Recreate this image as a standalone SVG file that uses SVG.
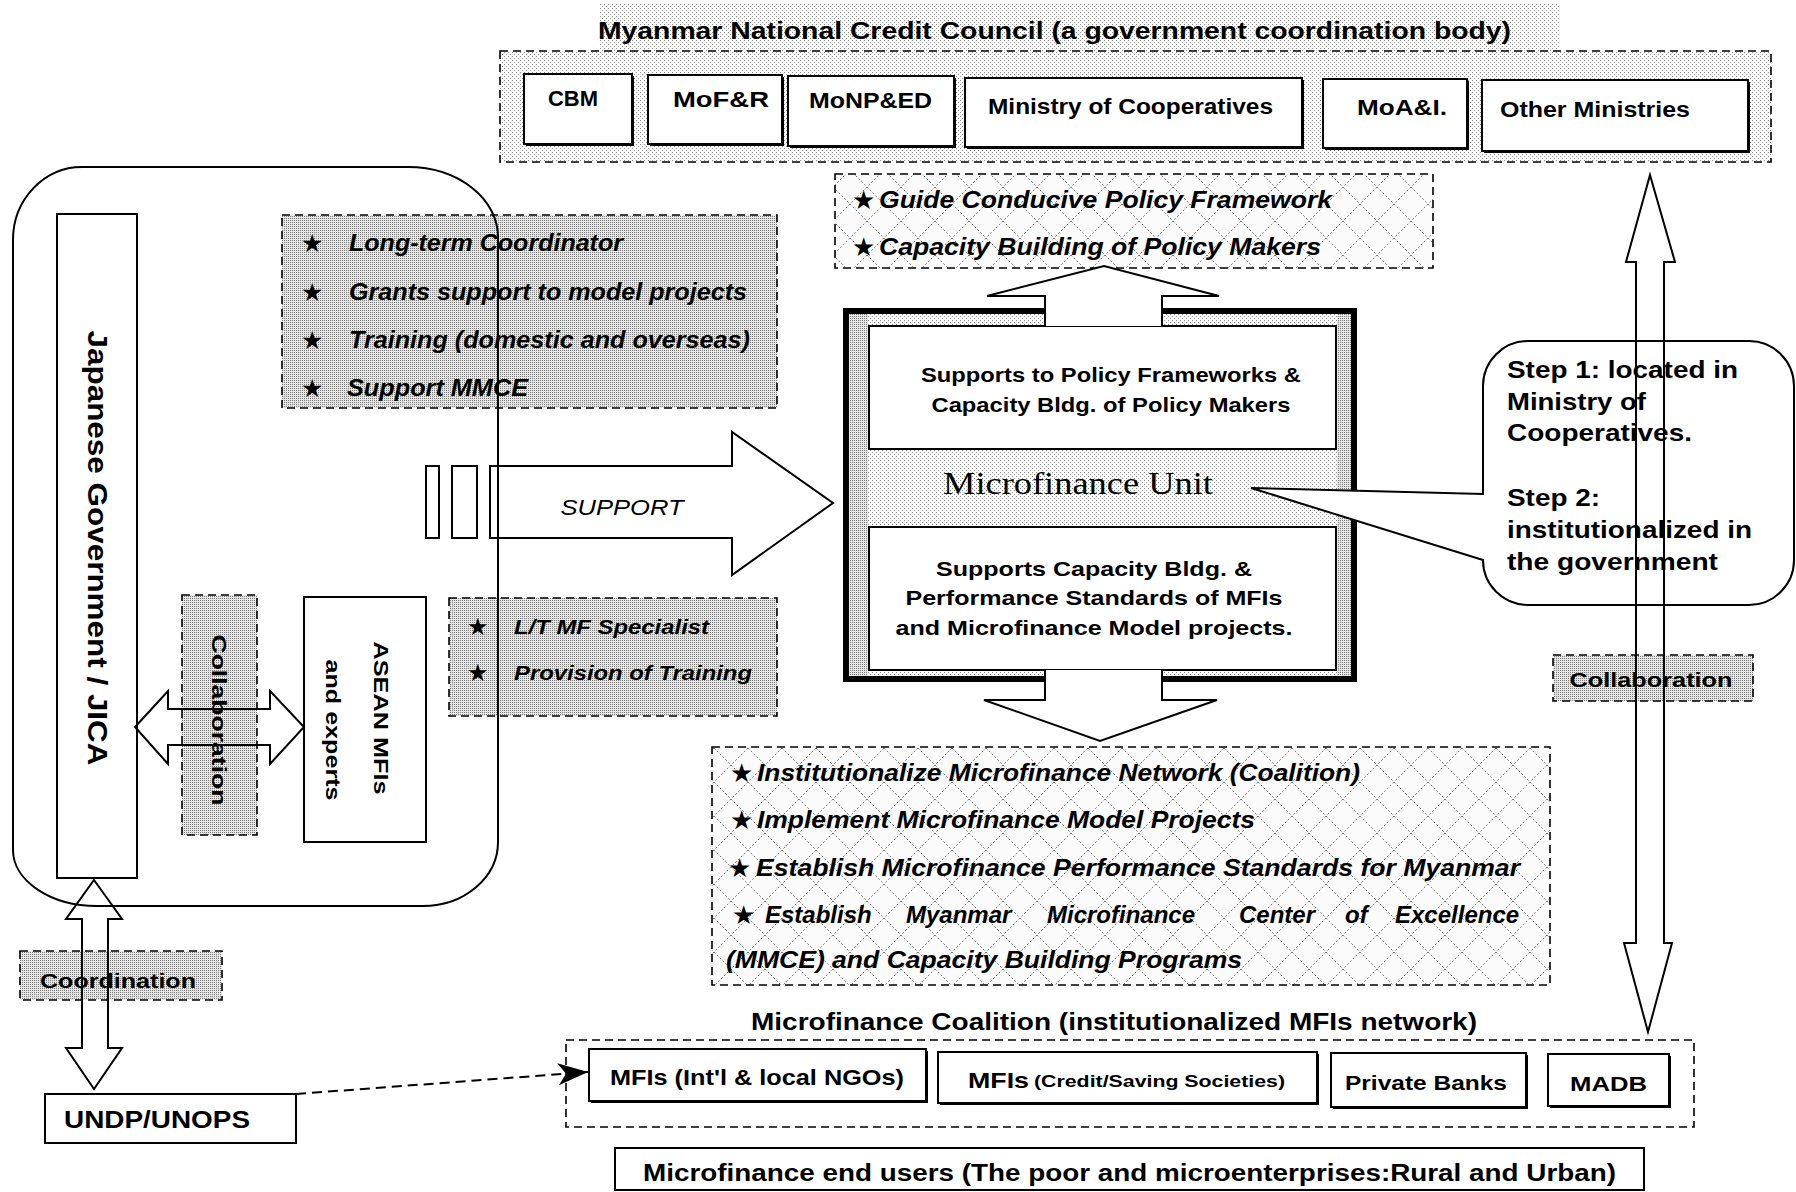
<svg xmlns="http://www.w3.org/2000/svg" width="1796" height="1192" viewBox="0 0 1796 1192">
<style>
.b{font-family:"Liberation Sans",Arial,sans-serif;font-weight:bold;fill:#000}
.bi{font-family:"Liberation Sans",Arial,sans-serif;font-weight:bold;font-style:italic;fill:#000}
.it{font-family:"Liberation Sans",Arial,sans-serif;font-style:italic;fill:#000}
.sr{font-family:"Liberation Serif","Times New Roman",serif;fill:#000}
.st{font-family:"DejaVu Sans",sans-serif;fill:#000}
.dash{stroke:#000;stroke-width:1.6;stroke-dasharray:8,5}
.box{fill:#fff;stroke:#000;stroke-width:2}
.sh{fill:#000}
.ln{fill:none;stroke:#000;stroke-width:2}
.wl{fill:#fff;stroke:#000;stroke-width:2}
</style>
<defs>
<pattern id="pl" width="4" height="4" patternUnits="userSpaceOnUse"><rect width="4" height="4" fill="#fff"/><rect width="1" height="1" fill="#8a8a8a"/><rect x="2" y="2" width="1" height="1" fill="#8a8a8a"/></pattern>
<pattern id="pd" width="2" height="2" patternUnits="userSpaceOnUse"><rect width="2" height="2" fill="#e6e6e6"/><rect width="1" height="1" fill="#7a7a7a"/></pattern>
<pattern id="hx" width="34" height="34" patternUnits="userSpaceOnUse"><rect width="34" height="34" fill="#fbfbfb"/><path d="M0,0 L34,34 M34,0 L0,34" stroke="#777" stroke-width="1" stroke-dasharray="2,2"/></pattern>
<marker id="ah" viewBox="0 0 30 22" refX="30" refY="11" markerWidth="30" markerHeight="22" markerUnits="userSpaceOnUse" orient="auto"><path d="M0,0 L30,11 L0,22 L8,11 Z" fill="#000"/></marker>
</defs>
<rect width="1796" height="1192" fill="#fff"/>

<g id="ncc">
<rect x="600" y="3" width="960" height="48" fill="url(#pl)"/>
<rect x="500" y="51" width="1271" height="111" fill="url(#pl)" class="dash"/>
<text class="b" x="598" y="39" font-size="24" textLength="913" lengthAdjust="spacingAndGlyphs">Myanmar National Credit Council (a government coordination body)</text>
</g>
<g id="cbm"><rect class="sh" x="526" y="76" width="108" height="70"/><rect class="box" x="524" y="74" width="108" height="70"/><text class="b" x="548" y="106" font-size="22" textLength="50" lengthAdjust="spacingAndGlyphs">CBM</text></g>
<g id="mofr"><rect class="sh" x="650" y="77" width="134" height="69"/><rect class="box" x="648" y="75" width="134" height="69"/><text class="b" x="673" y="107" font-size="22" textLength="96" lengthAdjust="spacingAndGlyphs">MoF&amp;R</text></g>
<g id="monped"><rect class="sh" x="790" y="78" width="166" height="70"/><rect class="box" x="788" y="76" width="166" height="70"/><text class="b" x="809" y="108" font-size="22" textLength="123" lengthAdjust="spacingAndGlyphs">MoNP&amp;ED</text></g>
<g id="moc"><rect class="sh" x="967" y="80" width="337" height="69"/><rect class="box" x="965" y="78" width="337" height="69"/><text class="b" x="988" y="114" font-size="22" textLength="285" lengthAdjust="spacingAndGlyphs">Ministry of Cooperatives</text></g>
<g id="moai"><rect class="sh" x="1325" y="81" width="144" height="69"/><rect class="box" x="1323" y="79" width="144" height="69"/><text class="b" x="1357" y="115" font-size="22" textLength="90" lengthAdjust="spacingAndGlyphs">MoA&amp;I.</text></g>
<g id="other"><rect class="sh" x="1484" y="82" width="266" height="71"/><rect class="box" x="1482" y="80" width="266" height="71"/><text class="b" x="1500" y="117" font-size="22" textLength="190" lengthAdjust="spacingAndGlyphs">Other Ministries</text></g>

<g id="guide">
<rect x="835" y="174" width="598" height="94" fill="url(#hx)" class="dash"/>
<text class="st" x="852" y="209" font-size="26">★</text>
<text class="bi" x="879" y="208" font-size="23" textLength="453" lengthAdjust="spacingAndGlyphs">Guide Conducive Policy Framework</text>
<text class="st" x="852" y="256" font-size="26">★</text>
<text class="bi" x="879" y="255" font-size="23" textLength="442" lengthAdjust="spacingAndGlyphs">Capacity Building of Policy Makers</text>
</g>

<g id="jica-support">
<rect x="282" y="215" width="495" height="193" fill="url(#pd)" class="dash"/>
<text class="st" x="301" y="252" font-size="25">★</text>
<text class="bi" x="349" y="251" font-size="23" textLength="274" lengthAdjust="spacingAndGlyphs">Long-term Coordinator</text>
<text class="st" x="301" y="301" font-size="25">★</text>
<text class="bi" x="349" y="300" font-size="23" textLength="398" lengthAdjust="spacingAndGlyphs">Grants support to model projects</text>
<text class="st" x="301" y="349" font-size="25">★</text>
<text class="bi" x="349" y="348" font-size="23" textLength="401" lengthAdjust="spacingAndGlyphs">Training (domestic and overseas)</text>
<text class="st" x="301" y="397" font-size="25">★</text>
<text class="bi" x="347" y="396" font-size="23" textLength="181" lengthAdjust="spacingAndGlyphs">Support MMCE</text>
</g>

<g id="lt-support">
<rect x="449" y="598" width="328" height="118" fill="url(#pd)" class="dash"/>
<text class="st" x="467" y="635" font-size="24">★</text>
<text class="bi" x="514" y="634" font-size="21" textLength="195" lengthAdjust="spacingAndGlyphs">L/T MF Specialist</text>
<text class="st" x="467" y="681" font-size="24">★</text>
<text class="bi" x="514" y="680" font-size="21" textLength="238" lengthAdjust="spacingAndGlyphs">Provision of Training</text>
</g>

<g id="japan">
<rect class="box" x="57" y="214" width="80" height="664"/>
<text class="b" transform="translate(97,548) rotate(90)" text-anchor="middle" dominant-baseline="central" font-size="27" textLength="435" lengthAdjust="spacingAndGlyphs">Japanese Government / JICA</text>
</g>

<g id="collab-left">
<rect x="182" y="595" width="75" height="240" fill="url(#pd)" class="dash"/>
<text class="b" transform="translate(219,720) rotate(90)" text-anchor="middle" dominant-baseline="central" font-size="20" textLength="171" lengthAdjust="spacingAndGlyphs">Collaboration</text>
</g>

<g id="asean">
<rect class="box" x="304" y="597" width="122" height="245"/>
<text class="b" transform="translate(381,718) rotate(90)" text-anchor="middle" dominant-baseline="central" font-size="21" textLength="153" lengthAdjust="spacingAndGlyphs">ASEAN MFIs</text>
<text class="b" transform="translate(333,730) rotate(90)" text-anchor="middle" dominant-baseline="central" font-size="21" textLength="141" lengthAdjust="spacingAndGlyphs">and experts</text>
</g>

<g id="mfu">
<rect x="843" y="308" width="514" height="374" fill="url(#pl)"/>
<rect x="848" y="313" width="20" height="364" fill="url(#pd)"/>
<rect x="1337" y="313" width="15" height="364" fill="url(#pd)"/>
<path d="M843,311 H1045 M1162,311 H1357 M1354,308 V682 M843,679 H1045 M1162,679 H1357 M846,308 V682" fill="none" stroke="#000" stroke-width="6"/>
<rect class="box" x="869" y="326" width="467" height="123"/>
<text class="b" x="1111" y="382" font-size="21" text-anchor="middle" textLength="380" lengthAdjust="spacingAndGlyphs">Supports to Policy Frameworks &amp;</text>
<text class="b" x="1111" y="412" font-size="21" text-anchor="middle" textLength="359" lengthAdjust="spacingAndGlyphs">Capacity Bldg. of Policy Makers</text>
<text class="sr" x="943" y="494" font-size="31" textLength="270" lengthAdjust="spacingAndGlyphs">Microfinance Unit</text>
<rect class="box" x="869" y="527" width="467" height="143"/>
<text class="b" x="1094" y="576" font-size="21" text-anchor="middle" textLength="316" lengthAdjust="spacingAndGlyphs">Supports Capacity Bldg. &amp;</text>
<text class="b" x="1094" y="605" font-size="21" text-anchor="middle" textLength="377" lengthAdjust="spacingAndGlyphs">Performance Standards of MFIs</text>
<text class="b" x="1094" y="635" font-size="21" text-anchor="middle" textLength="397" lengthAdjust="spacingAndGlyphs">and Microfinance Model projects.</text>
</g>

<g id="steps">
<path d="M1528,341 H1749 A45,45 0 0 1 1794,386 V560 A45,45 0 0 1 1749,605 H1528 A45,45 0 0 1 1483,560 L1251,488 L1483,494 V386 A45,45 0 0 1 1528,341 Z" fill="#fff" stroke="#000" stroke-width="2"/>
<text class="b" x="1507" y="378" font-size="24" textLength="231" lengthAdjust="spacingAndGlyphs">Step 1: located in</text>
<text class="b" x="1507" y="410" font-size="24" textLength="139" lengthAdjust="spacingAndGlyphs">Ministry of</text>
<text class="b" x="1507" y="441" font-size="24" textLength="185" lengthAdjust="spacingAndGlyphs">Cooperatives.</text>
<text class="b" x="1507" y="506" font-size="24" textLength="93" lengthAdjust="spacingAndGlyphs">Step 2:</text>
<text class="b" x="1507" y="538" font-size="24" textLength="245" lengthAdjust="spacingAndGlyphs">institutionalized in</text>
<text class="b" x="1507" y="570" font-size="24" textLength="211" lengthAdjust="spacingAndGlyphs">the government</text>
</g>

<g id="collab-right">
<rect x="1553" y="655" width="200" height="46" fill="url(#pd)" class="dash"/>
<text class="b" x="1651" y="687" font-size="21" text-anchor="middle" textLength="163" lengthAdjust="spacingAndGlyphs">Collaboration</text>
</g>

<g id="actions">
<rect x="712" y="747" width="838" height="238" fill="url(#hx)" class="dash"/>
<text class="st" x="730" y="782" font-size="26">★</text>
<text class="bi" x="757" y="781" font-size="23" textLength="603" lengthAdjust="spacingAndGlyphs">Institutionalize Microfinance Network (Coalition)</text>
<text class="st" x="730" y="829" font-size="26">★</text>
<text class="bi" x="757" y="828" font-size="23" textLength="498" lengthAdjust="spacingAndGlyphs">Implement Microfinance Model Projects</text>
<text class="st" x="728" y="877" font-size="26">★</text>
<text class="bi" x="756" y="876" font-size="23" textLength="764" lengthAdjust="spacingAndGlyphs">Establish Microfinance Performance Standards for Myanmar</text>
<text class="st" x="732" y="924" font-size="26">★</text>
<text class="bi" y="923" font-size="24"><tspan x="765">Establish</tspan><tspan x="906">Myanmar</tspan><tspan x="1047">Microfinance</tspan><tspan x="1239">Center</tspan><tspan x="1345">of</tspan><tspan x="1395">Excellence</tspan></text>
<text class="bi" x="726" y="968" font-size="23" textLength="516" lengthAdjust="spacingAndGlyphs">(MMCE) and Capacity Building Programs</text>
</g>

<g id="coalition">
<text class="b" x="751" y="1030" font-size="23" textLength="726" lengthAdjust="spacingAndGlyphs">Microfinance Coalition (institutionalized MFIs network)</text>
<rect x="566" y="1040" width="1128" height="87" fill="none" class="dash"/>
</g>
<g id="mfi-ngo"><rect class="sh" x="591" y="1051" width="337" height="52"/><rect class="box" x="589" y="1049" width="337" height="52"/><text class="b" x="610" y="1085" font-size="22" textLength="294" lengthAdjust="spacingAndGlyphs">MFIs (Int'l &amp; local NGOs)</text></g>
<g id="mfi-css"><rect class="sh" x="940" y="1054" width="379" height="51"/><rect class="box" x="938" y="1052" width="379" height="51"/><text class="b" x="968" y="1088" font-size="22" textLength="61" lengthAdjust="spacingAndGlyphs">MFIs</text><text class="b" x="1034" y="1087" font-size="16" textLength="251" lengthAdjust="spacingAndGlyphs">(Credit/Saving Societies)</text></g>
<g id="banks"><rect class="sh" x="1333" y="1055" width="195" height="54"/><rect class="box" x="1331" y="1053" width="195" height="54"/><text class="b" x="1345" y="1090" font-size="21" textLength="162" lengthAdjust="spacingAndGlyphs">Private Banks</text></g>
<g id="madb"><rect class="sh" x="1550" y="1056" width="121" height="52"/><rect class="box" x="1548" y="1054" width="121" height="52"/><text class="b" x="1570" y="1091" font-size="21" textLength="77" lengthAdjust="spacingAndGlyphs">MADB</text></g>

<g id="endusers"><rect class="box" x="615" y="1148" width="1029" height="42"/><text class="b" x="643" y="1181" font-size="23" textLength="973" lengthAdjust="spacingAndGlyphs">Microfinance end users (The poor and microenterprises:Rural and Urban)</text></g>

<g id="coordination">
<rect x="20" y="951" width="202" height="49" fill="url(#pd)" class="dash"/>
<text class="b" x="40" y="988" font-size="21" textLength="156" lengthAdjust="spacingAndGlyphs">Coordination</text>
</g>

<g id="undp"><rect class="box" x="45" y="1094" width="251" height="49"/><text class="b" x="64" y="1128" font-size="23" textLength="186" lengthAdjust="spacingAndGlyphs">UNDP/UNOPS</text></g>

<g id="connectors">
<path d="M490,466 H732 V432 L833,503 L732,575 V538 H490 Z" class="wl"/>
<text class="it" x="622" y="515" font-size="22" text-anchor="middle" textLength="123" lengthAdjust="spacingAndGlyphs">SUPPORT</text>
<rect x="426" y="466" width="13" height="72" class="wl"/>
<rect x="452" y="466" width="25" height="72" class="wl"/>
<path d="M1045,326 V296 H987 L1104,266 L1219,296 H1162 V326" class="wl"/>
<path d="M1045,670 V700 H984 L1100,741 L1217,700 H1162 V670" class="wl"/>
<path d="M1650,175 L1675,262 H1664 V943 H1672 L1648,1032 L1624,943 H1636 V262 H1626 Z" class="ln"/>
<path d="M135,727 L168,691 V709 H270 V691 L304,727 L270,764 V745 H168 V764 Z" class="ln"/>
<path d="M94,880 L122,919 H108 V1048 H122 L94,1089 L66,1048 H82 V919 H66 Z" class="ln"/>
<path d="M296,1094 L588,1072" fill="none" stroke="#000" stroke-width="2" stroke-dasharray="10,6" marker-end="url(#ah)"/>
<path d="M93,167 H408 A90,70 0 0 1 498,237 V842 A75,64 0 0 1 423,906 H97 A84,56 0 0 1 13,850 V240 A69,73 0 0 1 82,167 Z" class="ln"/>
</g>
</svg>
